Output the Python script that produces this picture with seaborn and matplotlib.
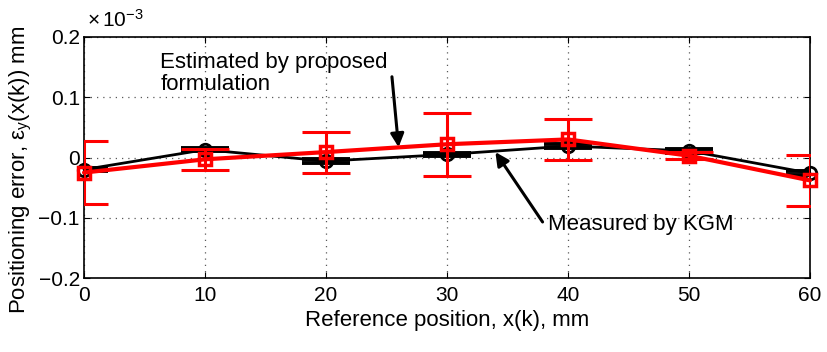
import numpy as np
import pandas as pd
import matplotlib
matplotlib.use("Agg")
import matplotlib.pyplot as plt
import seaborn as sns

# reference positions (mm) and positioning errors (x 1e-3 mm)
positions = [0, 10, 20, 30, 40, 50, 60]
measured = [-0.020, 0.013, -0.006, 0.005, 0.019, 0.011, -0.026]
measured_err = [0.003, 0.003, 0.003, 0.003, 0.003, 0.003, 0.003]
estimated = [-0.025, -0.003, 0.009, 0.022, 0.030, 0.003, -0.038]
estimated_err = [0.052, 0.017, 0.034, 0.052, 0.034, 0.006, 0.042]

y_ticks = [-0.2, -0.1, 0, 0.1, 0.2]
y_ticklabels = ['\u22120.2', '\u22120.1', '0', '0.1', '0.2']

sns.set_style("ticks")
plt.rcParams['font.family'] = ['Liberation Sans', 'DejaVu Sans']
plt.rcParams['mathtext.fontset'] = 'custom'
plt.rcParams['mathtext.rm'] = 'Liberation Sans'
plt.rcParams['mathtext.it'] = 'Liberation Sans'
plt.rcParams['text.color'] = 'black'
plt.rcParams['axes.labelcolor'] = 'black'
plt.rcParams['xtick.color'] = 'black'
plt.rcParams['ytick.color'] = 'black'

df = pd.DataFrame({'x': positions * 2,
                   'y': measured + estimated,
                   'series': ['Measured'] * 7 + ['Estimated'] * 7})

fig, ax = plt.subplots(figsize=(8.27, 3.52), dpi=100)

# error bars (clipped at the axes, like the original)
ax.errorbar(positions, measured, yerr=measured_err, fmt='none', ecolor='black',
            elinewidth=2, capsize=17, capthick=2.8, zorder=2)
ax.errorbar(positions, estimated, yerr=estimated_err, fmt='none', ecolor='red',
            elinewidth=2.2, capsize=17, capthick=2.2, zorder=3)

sns.lineplot(data=df[df.series == 'Measured'], x='x', y='y', ax=ax, color='black',
             lw=2, marker='o', markersize=9, markerfacecolor='none',
             markeredgecolor='black', markeredgewidth=2, zorder=2, clip_on=False)
sns.lineplot(data=df[df.series == 'Estimated'], x='x', y='y', ax=ax, color='red',
             lw=3, marker='s', markersize=9, markerfacecolor='none',
             markeredgecolor='red', markeredgewidth=2.5, zorder=4, clip_on=False)

ax.set_xlim(0, 60)
ax.set_ylim(-0.2, 0.2)
ax.set_xticks(np.arange(0, 61, 10))
ax.set_yticks(y_ticks)
ax.set_yticklabels(y_ticklabels)
ax.grid(True, linestyle=(0, (1, 4)), color='0.35', lw=0.9)
ax.tick_params(direction='in', top=True, right=True, labelsize=15, length=4,
               width=0.8)
ax.tick_params(axis='x', pad=6)
ax.tick_params(axis='y', pad=3)
for sp in ax.spines.values():
    sp.set_linewidth(1.2)
    sp.set_color('black')

ax.set_xlabel('Reference position, x(k), mm', fontsize=16, labelpad=3)
ax.set_ylabel(r'Positioning error, $\varepsilon_y$(x(k)) mm', fontsize=16)
ax.yaxis.set_label_coords(-0.069, 0.45)
ax.text(0.004, 1.025, r'$\times\,10^{-3}$', transform=ax.transAxes, fontsize=15,
        ha='left', va='bottom')

ax.text(6.3, 0.140, 'Estimated by proposed\nformulation', fontsize=16,
        ha='left', va='center', linespacing=1.05)
ax.annotate('', xy=(26.0, 0.017), xytext=(25.45, 0.134),
            arrowprops=dict(arrowstyle='-|>', color='black', lw=2.2, mutation_scale=20,
                            shrinkA=0, shrinkB=0))
ax.text(38.35, -0.112, 'Measured by KGM', fontsize=16, ha='left', va='center')
ax.annotate('', xy=(34.0, 0.009), xytext=(37.9, -0.107),
            arrowprops=dict(arrowstyle='-|>', color='black', lw=2.2, mutation_scale=20,
                            shrinkA=0, shrinkB=0))

fig.subplots_adjust(left=0.1016, right=0.9794, top=0.8949, bottom=0.2102)
fig.savefig('out.png', dpi=100)
